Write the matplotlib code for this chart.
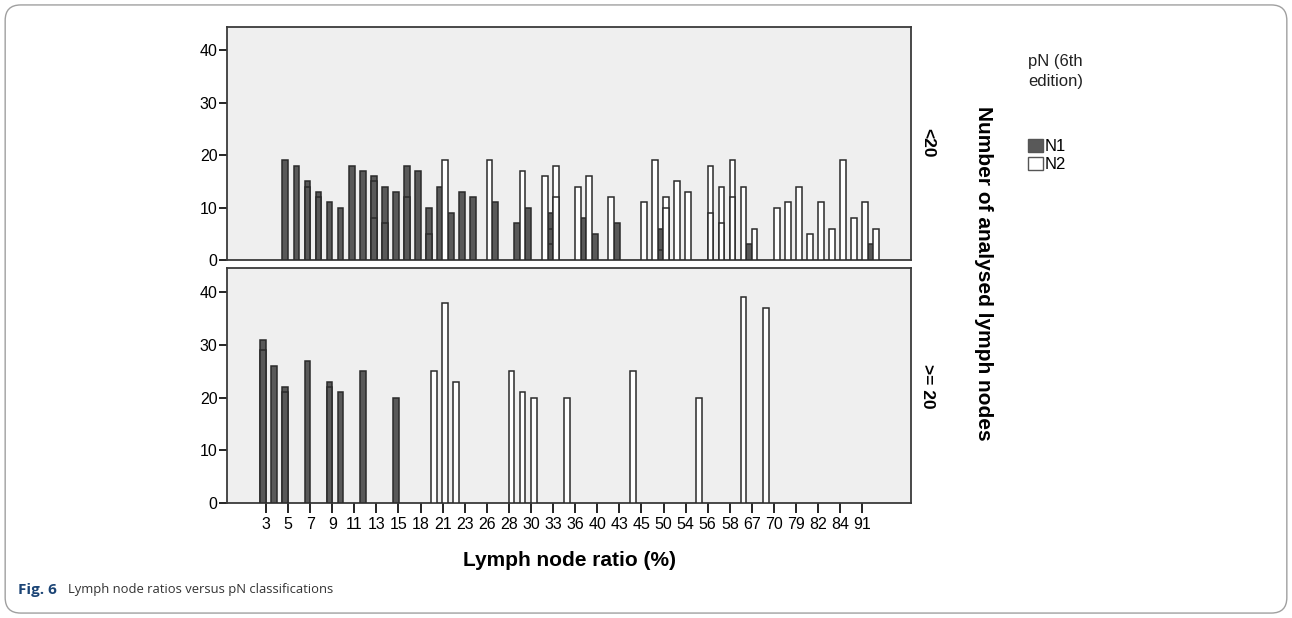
import numpy as np
import matplotlib.pyplot as plt
from matplotlib.patches import FancyBboxPatch, Patch

plt.rcParams['font.family'] = ['Liberation Sans', 'DejaVu Sans']

# LNR categories: every other category carries a label
tick_labels = ['3', '5', '7', '9', '11', '13', '15', '18', '21', '23', '26', '28', '30', '33',
               '36', '40', '43', '45', '50', '54', '56', '58', '67', '70', '79', '82', '84', '91']

# panel "<20": category slot and number of analysed nodes per case
low_n1_slot = [2, 3, 4, 4, 5, 5, 6, 7, 8, 9, 10, 10, 10, 11, 11, 12, 13, 13, 14, 15, 15, 16,
               17, 18, 19, 21, 23, 24, 26, 26, 26, 29, 30, 32, 36, 36, 44, 55]
low_n1_val = [19, 18, 15, 14, 13, 12, 11, 10, 18, 17, 16, 15, 8, 14, 7, 13, 18, 12, 17, 10, 5, 14,
              9, 13, 12, 11, 7, 10, 9, 6, 3, 8, 5, 7, 6, 2, 3, 3]
low_n2_slot = [16, 20, 23, 25, 26, 26, 28, 29, 31, 34, 35, 36, 36, 37, 38, 40, 40, 41, 41, 42, 42,
               43, 44, 46, 47, 48, 49, 50, 51, 52, 53, 54, 55]
low_n2_val = [19, 19, 17, 16, 18, 12, 14, 16, 12, 11, 19, 12, 10, 15, 13, 18, 9, 14, 7, 19, 12,
              14, 6, 10, 11, 14, 5, 11, 6, 19, 8, 11, 6]

# panel ">= 20"
high_n1_slot = [0, 0, 1, 2, 2, 4, 6, 6, 7, 9, 12]
high_n1_val = [31, 29, 26, 22, 21, 27, 23, 22, 21, 25, 20]
high_n2_slot = [15, 16, 17, 22, 23, 24, 27, 33, 39, 43, 45]
high_n2_val = [25, 38, 23, 25, 21, 20, 20, 25, 20, 39, 37]

series_names = ['N1', 'N2']
series_fill = ['#595959', '#ffffff']
edge = '#2b2b2b'
bar_w = 0.52
offsets = [-0.24, 0.24]

fig = plt.figure(figsize=(12.92, 6.18), dpi=100)

# rounded frame round the whole figure
frame = FancyBboxPatch((0.004, 0.008), 0.992, 0.984, boxstyle='round,pad=0,rounding_size=0.012',
                       transform=fig.transFigure, fill=False, edgecolor='#a0a0a0', linewidth=1.0,
                       mutation_aspect=1292 / 618)
fig.patches.append(frame)

ax_top = fig.add_axes([0.1759, 0.5793, 0.5292, 0.3775])
ax_bot = fig.add_axes([0.1759, 0.1856, 0.5292, 0.3803])

panels = [
    (ax_top, [(low_n1_slot, low_n1_val), (low_n2_slot, low_n2_val)]),
    (ax_bot, [(high_n1_slot, high_n1_val), (high_n2_slot, high_n2_val)]),
]

for ax, series in panels:
    ax.set_facecolor('#efefef')
    for k, (slots, vals) in enumerate(series):
        slots = np.array(slots)
        vals = np.array(vals)
        order = np.argsort(-vals, kind='stable')  # tallest first so shorter cases show as inner lines
        ax.bar(slots[order] + offsets[k], vals[order], width=bar_w, color=series_fill[k],
               edgecolor=edge, linewidth=1.1, zorder=3)
    ax.set_xlim(-3.5, 58.4)
    ax.set_ylim(0, 44.5)
    ax.set_yticks([0, 10, 20, 30, 40])
    ax.tick_params(axis='y', direction='out', length=6, width=1.2, labelsize=11.5, pad=1)
    for s in ax.spines.values():
        s.set_color('#3a3a3a')
        s.set_linewidth(1.3)

ax_top.set_xticks([])
ax_bot.set_xticks(np.arange(0, 2 * len(tick_labels), 2))
ax_bot.set_xticklabels(tick_labels)
ax_bot.tick_params(axis='x', direction='out', length=7, width=1.2, labelsize=11.5, pad=3)

# facet labels and shared axis titles
fig.text(0.718, 1 - 143 / 618, '<20', rotation=-90, ha='center', va='center',
         fontsize=12.5, fontweight='bold')
fig.text(0.718, 1 - 386 / 618, '>= 20', rotation=-90, ha='center', va='center',
         fontsize=12.5, fontweight='bold')
fig.text(0.761, 1 - 273 / 618, 'Number of analysed lymph nodes', rotation=-90, ha='center',
         va='center', fontsize=15, fontweight='bold')
fig.text(0.4405, 1 - 560 / 618, 'Lymph node ratio (%)', ha='center', va='center',
         fontsize=15, fontweight='bold')

handles = [Patch(facecolor=series_fill[k], edgecolor='#555555', linewidth=1.0)
           for k in range(len(series_names))]
leg = fig.legend(handles, series_names, title='pN (6th\nedition)', loc='upper left',
                 bbox_to_anchor=(0.796, 1 - 54 / 618), frameon=False, fontsize=12,
                 title_fontsize=12, handlelength=0.85, handleheight=0.85, handletextpad=0.1,
                 labelspacing=0.15, borderaxespad=0, borderpad=0)
leg._legend_box.align = 'left'
leg._legend_box.sep = 36
leg.get_title().set_color('#222222')
leg.get_title().set_linespacing(1.4)
leg.get_title().set_multialignment('left')

fig.text(0.014, 1 - 590 / 618, 'Fig. 6', fontsize=11, fontweight='bold', color='#1b4475',
         family='Open Sans', va='center')
fig.text(0.0525, 1 - 590 / 618, 'Lymph node ratios versus pN classifications', fontsize=9.4,
         color='#333333', family='Open Sans', va='center')

plt.savefig('out.png', dpi=100)
